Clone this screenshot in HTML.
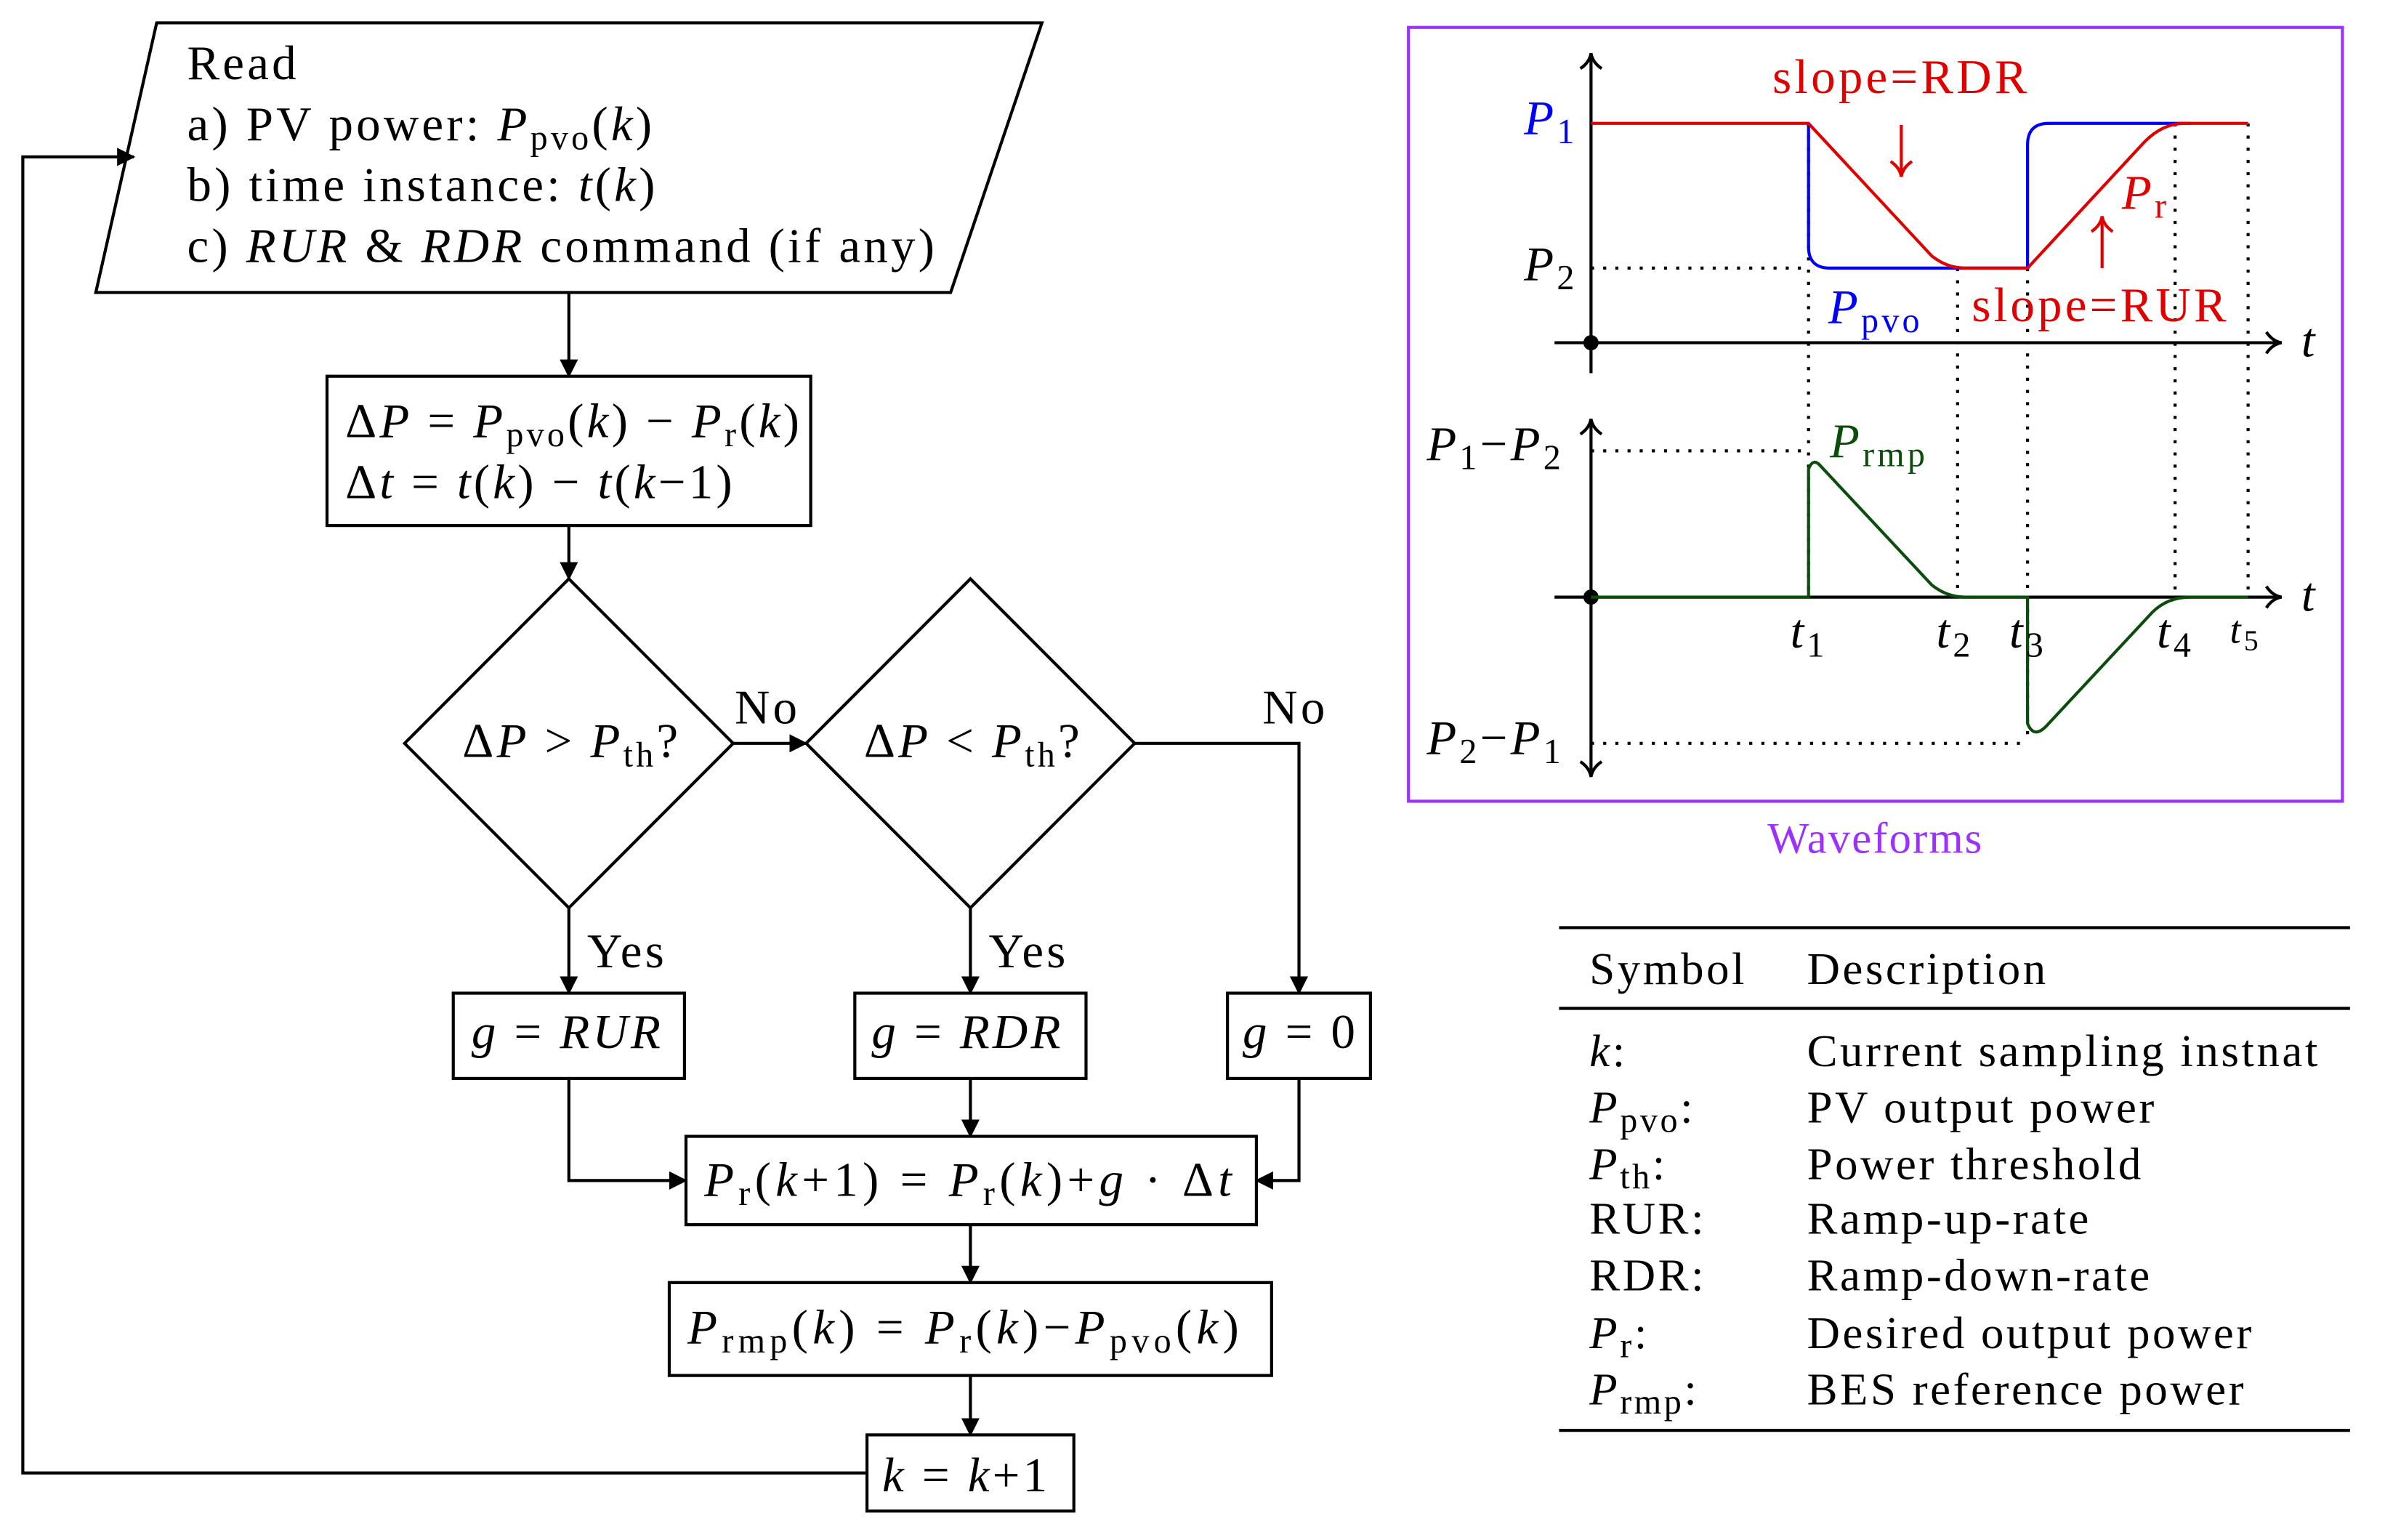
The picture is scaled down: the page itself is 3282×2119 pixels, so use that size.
<!DOCTYPE html>
<html><head><meta charset="utf-8"><style>
html,body{margin:0;padding:0;background:#fff;}
svg{display:block;}
text{font-family:"Liberation Serif",serif;font-size:32px;letter-spacing:2px;fill:#000;}
.i{font-style:italic;}
.s{font-size:23px;}
.t{font-size:30px;letter-spacing:1.7px;}
</style></head><body>
<svg width="3282" height="2119" viewBox="0 0 1568 1011" preserveAspectRatio="none" xmlns="http://www.w3.org/2000/svg">
<defs>
<marker id="a" markerWidth="12" markerHeight="12" refX="11" refY="6" orient="auto" markerUnits="userSpaceOnUse"><path d="M0,0 L12,6 L0,12 z" fill="#000"/></marker>
<marker id="o" markerWidth="14" markerHeight="16" refX="12" refY="8" orient="auto" markerUnits="userSpaceOnUse"><path d="M2,1 Q6,7 12,8 Q6,9 2,15" fill="none" stroke="#000" stroke-width="2"/></marker>
<marker id="r" markerWidth="14" markerHeight="16" refX="12" refY="8" orient="auto" markerUnits="userSpaceOnUse"><path d="M2,1 Q6,7 12,8 Q6,9 2,15" fill="none" stroke="#e00000" stroke-width="2"/></marker>
</defs>
<g fill="none" stroke="#000" stroke-width="2">
<polygon points="103,15 685,15 625,192 63,192"/>
<line x1="374" y1="192" x2="374" y2="247" marker-end="url(#a)"/>
<rect x="215" y="247" width="318" height="98"/>
<line x1="374" y1="345" x2="374" y2="380" marker-end="url(#a)"/>
<polygon points="374,380 482,488 374,596 266,488"/>
<polygon points="638,380 746,488 638,596 530,488"/>
<line x1="482" y1="488" x2="530" y2="488" marker-end="url(#a)"/>
<polyline points="746,488 854,488 854,652" marker-end="url(#a)"/>
<line x1="374" y1="596" x2="374" y2="652" marker-end="url(#a)"/>
<line x1="638" y1="596" x2="638" y2="652" marker-end="url(#a)"/>
<rect x="298" y="652" width="152" height="56"/>
<rect x="562" y="652" width="152" height="56"/>
<rect x="807" y="652" width="94" height="56"/>
<rect x="451" y="746" width="375" height="58"/>
<line x1="638" y1="708" x2="638" y2="746" marker-end="url(#a)"/>
<polyline points="374,708 374,775 451,775" marker-end="url(#a)"/>
<polyline points="854,708 854,775 826,775" marker-end="url(#a)"/>
<line x1="638" y1="804" x2="638" y2="842" marker-end="url(#a)"/>
<rect x="440" y="842" width="396" height="61"/>
<line x1="638" y1="903" x2="638" y2="942" marker-end="url(#a)"/>
<rect x="570" y="942" width="136" height="50"/>
<polyline points="570,967 15,967 15,103 88,103" marker-end="url(#a)"/>
</g>
<text x="123" y="52">Read</text>
<text x="123" y="92">a) PV power: <tspan class="i">P</tspan><tspan class="s" dy="6">pvo</tspan><tspan dy="-6">(</tspan><tspan class="i">k</tspan>)</text>
<text x="123" y="132">b) time instance: <tspan class="i">t</tspan>(<tspan class="i">k</tspan>)</text>
<text x="123" y="172">c) <tspan class="i">RUR</tspan> &amp; <tspan class="i">RDR</tspan> command (if any)</text>
<text x="227" y="287">Δ<tspan class="i">P</tspan> = <tspan class="i">P</tspan><tspan class="s" dy="6">pvo</tspan><tspan dy="-6">(</tspan><tspan class="i">k</tspan>) − <tspan class="i">P</tspan><tspan class="s" dy="6">r</tspan><tspan dy="-6">(</tspan><tspan class="i">k</tspan>)</text>
<text x="227" y="327">Δ<tspan class="i">t</tspan> = <tspan class="i">t</tspan>(<tspan class="i">k</tspan>) − <tspan class="i">t</tspan>(<tspan class="i">k</tspan>−1)</text>
<text x="304" y="497">Δ<tspan class="i">P</tspan> &gt; <tspan class="i">P</tspan><tspan class="s" dy="6">th</tspan><tspan dy="-6">?</tspan></text>
<text x="568" y="497">Δ<tspan class="i">P</tspan> &lt; <tspan class="i">P</tspan><tspan class="s" dy="6">th</tspan><tspan dy="-6">?</tspan></text>
<text x="483" y="475">No</text>
<text x="830" y="475">No</text>
<text x="386" y="635">Yes</text>
<text x="650" y="635">Yes</text>
<text x="310" y="688"><tspan class="i">g</tspan> = <tspan class="i">RUR</tspan></text>
<text x="573" y="688"><tspan class="i">g</tspan> = <tspan class="i">RDR</tspan></text>
<text x="817" y="688"><tspan class="i">g</tspan> = 0</text>
<text x="463" y="785" style="letter-spacing:3px"><tspan class="i">P</tspan><tspan class="s" dy="6">r</tspan><tspan dy="-6">(</tspan><tspan class="i">k</tspan>+1) = <tspan class="i">P</tspan><tspan class="s" dy="6">r</tspan><tspan dy="-6">(</tspan><tspan class="i">k</tspan>)+<tspan class="i">g</tspan> · Δ<tspan class="i">t</tspan></text>
<text x="452" y="882" style="letter-spacing:3px"><tspan class="i">P</tspan><tspan class="s" dy="6">rmp</tspan><tspan dy="-6">(</tspan><tspan class="i">k</tspan>) = <tspan class="i">P</tspan><tspan class="s" dy="6">r</tspan><tspan dy="-6">(</tspan><tspan class="i">k</tspan>)−<tspan class="i">P</tspan><tspan class="s" dy="6">pvo</tspan><tspan dy="-6">(</tspan><tspan class="i">k</tspan>)</text>
<text x="580" y="979"><tspan class="i">k</tspan> = <tspan class="i">k</tspan>+1</text>

<!-- Waveforms -->
<rect x="926" y="18" width="614" height="508" fill="none" stroke="#9b30ff" stroke-width="2"/>
<text x="1233" y="560" text-anchor="middle" style="fill:#9b30ff;font-size:29px;letter-spacing:1px">Waveforms</text>
<g fill="none" stroke="#000" stroke-width="2">
<line x1="1046" y1="245" x2="1046" y2="35" marker-end="url(#o)"/>
<line x1="1022" y1="225" x2="1500" y2="225" marker-end="url(#o)"/>
<line x1="1046" y1="392" x2="1046" y2="275" marker-end="url(#o)"/>
<line x1="1046" y1="392" x2="1046" y2="510" marker-end="url(#o)"/>
<line x1="1022" y1="392" x2="1500" y2="392" marker-end="url(#o)"/>
</g>
<circle cx="1046" cy="225" r="5"/><circle cx="1046" cy="392" r="5"/>
<g fill="none" stroke="#000" stroke-width="2" stroke-dasharray="2,6">
<line x1="1046" y1="176" x2="1189" y2="176"/>
<line x1="1046" y1="296" x2="1189" y2="296"/>
<line x1="1046" y1="488" x2="1333" y2="488"/>
<line x1="1189" y1="81" x2="1189" y2="392"/>
<line x1="1287" y1="176" x2="1287" y2="392"/>
<line x1="1333" y1="176" x2="1333" y2="488"/>
<line x1="1430" y1="81" x2="1430" y2="392"/>
<line x1="1478" y1="81" x2="1478" y2="392"/>
</g>
<path d="M1189,81 L1189,162 Q1189,176 1203,176 L1333,176 L1333,95 Q1333,81 1347,81 L1440,81" fill="none" stroke="#0000ff" stroke-width="2"/>
<path d="M1046,81 L1189,81 L1270,168 Q1280,176 1292,176 L1333,176 L1410,93 Q1422,81 1436,81 L1478,81" fill="none" stroke="#e00000" stroke-width="2"/>
<path d="M1046,392 L1189,392 L1189,308 Q1192,300 1197,306 L1270,384 Q1280,392 1292,392 L1333,392 L1333,475 Q1337,485 1345,477 L1415,402 Q1425,392 1440,392 L1478,392" fill="none" stroke="#0b4d0b" stroke-width="2"/>
<line x1="1250" y1="82" x2="1250" y2="116" stroke="#e00000" stroke-width="2" marker-end="url(#r)"/>
<line x1="1382" y1="176" x2="1382" y2="142" stroke="#e00000" stroke-width="2" marker-end="url(#r)"/>
<text x="1250" y="61" text-anchor="middle" style="fill:#e00000">slope=RDR</text>
<text x="1395" y="137" class="i" style="fill:#e00000">P<tspan class="s" dy="6" style="font-style:normal;fill:#e00000">r</tspan></text>
<text x="1381" y="211" text-anchor="middle" style="fill:#e00000">slope=RUR</text>
<text x="1202" y="212" class="i" style="fill:#0000ff">P<tspan class="s" dy="6" style="font-style:normal;fill:#0000ff">pvo</tspan></text>
<text x="1203" y="300" class="i" style="fill:#0b4d0b">P<tspan class="s" dy="6" style="font-style:normal;fill:#0b4d0b">rmp</tspan></text>
<text x="1002" y="88" class="i" style="fill:#0000ff">P<tspan class="s" dy="6" style="font-style:normal;fill:#0000ff">1</tspan></text>
<text x="1002" y="184" class="i">P<tspan class="s" dy="6" style="font-style:normal">2</tspan></text>
<text x="938" y="302"><tspan class="i">P</tspan><tspan class="s" dy="6">1</tspan><tspan dy="-6">−</tspan><tspan class="i">P</tspan><tspan class="s" dy="6">2</tspan></text>
<text x="938" y="495"><tspan class="i">P</tspan><tspan class="s" dy="6">2</tspan><tspan dy="-6">−</tspan><tspan class="i">P</tspan><tspan class="s" dy="6">1</tspan></text>
<text x="1513" y="234" class="i">t</text>
<text x="1513" y="401" class="i">t</text>
<text x="1177" y="425" class="i">t<tspan class="s" dy="6" style="font-style:normal">1</tspan></text>
<text x="1273" y="425" class="i">t<tspan class="s" dy="6" style="font-style:normal">2</tspan></text>
<text x="1321" y="425" class="i">t<tspan class="s" dy="6" style="font-style:normal">3</tspan></text>
<text x="1418" y="425" class="i">t<tspan class="s" dy="6" style="font-style:normal">4</tspan></text>
<text x="1466" y="422" class="i" style="font-size:26px">t<tspan style="font-size:19px;font-style:normal" dy="5">5</tspan></text>

<!-- Table -->
<g stroke="#000" stroke-width="2">
<line x1="1025" y1="609" x2="1545" y2="609"/>
<line x1="1025" y1="662" x2="1545" y2="662"/>
<line x1="1025" y1="939" x2="1545" y2="939"/>
</g>
<text x="1045" y="646" class="t">Symbol</text><text x="1188" y="646" class="t">Description</text>
<text x="1045" y="700" class="t"><tspan class="i">k</tspan>:</text><text x="1188" y="700" class="t">Current sampling instnat</text>
<text x="1045" y="737" class="t"><tspan class="i">P</tspan><tspan class="s" dy="6">pvo</tspan><tspan dy="-6">:</tspan></text><text x="1188" y="737" class="t">PV output power</text>
<text x="1045" y="774" class="t"><tspan class="i">P</tspan><tspan class="s" dy="6">th</tspan><tspan dy="-6">:</tspan></text><text x="1188" y="774" class="t">Power threshold</text>
<text x="1045" y="810" class="t">RUR:</text><text x="1188" y="810" class="t">Ramp-up-rate</text>
<text x="1045" y="847" class="t">RDR:</text><text x="1188" y="847" class="t">Ramp-down-rate</text>
<text x="1045" y="885" class="t"><tspan class="i">P</tspan><tspan class="s" dy="6">r</tspan><tspan dy="-6">:</tspan></text><text x="1188" y="885" class="t">Desired output power</text>
<text x="1045" y="922" class="t"><tspan class="i">P</tspan><tspan class="s" dy="6">rmp</tspan><tspan dy="-6">:</tspan></text><text x="1188" y="922" class="t">BES reference power</text>
</svg>
</body></html>
